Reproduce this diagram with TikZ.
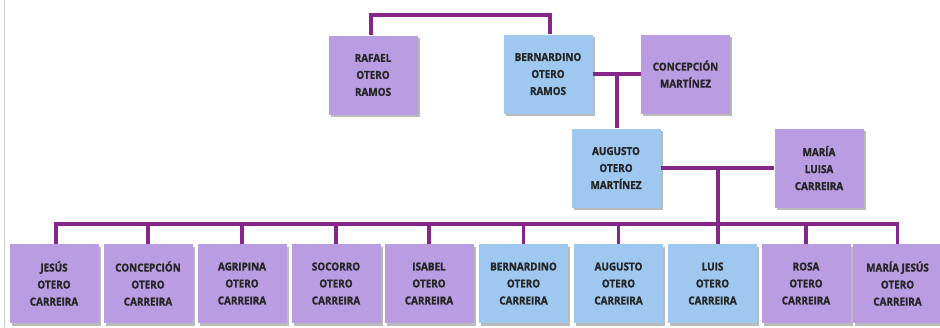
\documentclass[tikz,border=0pt]{standalone}
\usepackage{fontspec}
\setmainfont{Open Sans}[FakeStretch=0.9,BoldFeatures={FakeBold=1.3}]
\usetikzlibrary{shadows,calc}
\definecolor{lila}{RGB}{186,156,226}
\definecolor{celeste}{RGB}{158,200,240}
\definecolor{linea}{RGB}{135,38,138}
\begin{document}
\begin{tikzpicture}[x=1pt,y=-1pt,
  persona/.style={minimum width=89pt,minimum height=79pt,inner sep=0pt,align=center,
    text=black!85,font=\bfseries\fontsize{11}{17}\selectfont,
    drop shadow={shadow xshift=2pt,shadow yshift=-2.5pt,opacity=0.45,fill=black!60}},
  mujer/.style={persona,fill=lila},
  hombre/.style={persona,fill=celeste},
  lazo/.style={linea,line width=3.2pt}]
\useasboundingbox (0,0) rectangle (940,327);
\draw[black!20,line width=1pt] (4,0) -- (4,327);

% lineas
\coordinate (b1) at (371,15);
\coordinate (m1) at (617,74);
\coordinate (m2) at (718,169);
\coordinate (bus) at (56,224);

\node[mujer] (rafael) at (373,75) {RAFAEL\\OTERO\\RAMOS};
\node[hombre] (bernardino) at (548,74) {BERNARDINO\\OTERO\\RAMOS};
\node[mujer] (concepcion) at (685.5,74) {CONCEPCIÓN\\MARTÍNEZ};
\node[hombre] (augusto) at (616,168) {AUGUSTO\\OTERO\\MARTÍNEZ};
\node[mujer] (marialuisa) at (819,168) {MARÍA\\LUISA\\CARREIRA};

\node[mujer] (h1) at (54,283.5) {JESÚS\\OTERO\\CARREIRA};
\node[mujer] (h2) at (148,283.5) {CONCEPCIÓN\\OTERO\\CARREIRA};
\node[mujer] (h3) at (242,283.5) {AGRIPINA\\OTERO\\CARREIRA};
\node[mujer] (h4) at (336,283.5) {SOCORRO\\OTERO\\CARREIRA};
\node[mujer] (h5) at (429,283.5) {ISABEL\\OTERO\\CARREIRA};
\node[hombre] (h6) at (523.5,283.5) {BERNARDINO\\OTERO\\CARREIRA};
\node[hombre] (h7) at (618.5,283.5) {AUGUSTO\\OTERO\\CARREIRA};
\node[hombre] (h8) at (712.5,283.5) {LUIS\\OTERO\\CARREIRA};
\node[mujer] (h9) at (806,283.5) {ROSA\\OTERO\\CARREIRA};
\node[mujer] (h10) at (897.5,283.5) {MARÍA JESÚS\\OTERO\\CARREIRA};

\draw[lazo] (rafael.north -| b1) |- (b1) -| ($(bernardino.north)+(2,0)$);
\draw[lazo] (bernardino.east) -- (concepcion.west);
\draw[lazo] (m1) -- (m1 |- augusto.north);
\draw[lazo] (augusto.east) -- (marialuisa.west);
\draw[lazo] (m2) -- (m2 |- h8.north);
\draw[lazo] (h1.north -| bus) |- (h10.north |- bus) -- (h10.north);
\foreach \h in {h2,h3,h4,h5,h6,h7,h9}
  \draw[lazo] (\h.north |- bus) -- (\h.north);

\end{tikzpicture}
\end{document}
